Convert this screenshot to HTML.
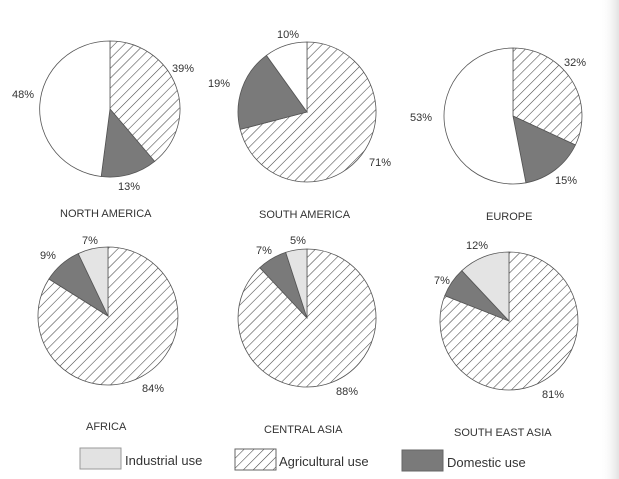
<!DOCTYPE html>
<html><head><meta charset="utf-8"><style>
html,body{margin:0;padding:0;background:#fff;}
svg{display:block;font-family:"Liberation Sans",sans-serif;}
text{font-size:11px;fill:#333;}
</style></head><body>
<svg id="s" width="619" height="479" viewBox="0 0 619 479" xmlns="http://www.w3.org/2000/svg">
<defs>
<pattern id="h" patternUnits="userSpaceOnUse" width="7" height="7" patternTransform="rotate(45)">
<rect width="7" height="7" fill="#fff"/>
<line x1="0" y1="0" x2="0" y2="7" stroke="#444" stroke-width="1.1"/>
</pattern>
<linearGradient id="g" x1="0" x2="1"><stop offset="0" stop-color="#fff" stop-opacity="0"/><stop offset="1" stop-color="#e2e2e2"/></linearGradient>
</defs>
<rect x="600" y="0" width="19" height="479" fill="url(#g)"/>
<g id="pies"></g>
<g>
<text x="172" y="72">39%</text><text x="12" y="98">48%</text><text x="118" y="190">13%</text>
<text x="277" y="38">10%</text><text x="208" y="87">19%</text><text x="369" y="166">71%</text>
<text x="564" y="66">32%</text><text x="410" y="121">53%</text><text x="555" y="184">15%</text>
<text x="82" y="244">7%</text><text x="40" y="259">9%</text><text x="142" y="392">84%</text>
<text x="290" y="244">5%</text><text x="256" y="254">7%</text><text x="336" y="395">88%</text>
<text x="466" y="249">12%</text><text x="434" y="284">7%</text><text x="542" y="398">81%</text>
<text x="60" y="217">NORTH AMERICA</text>
<text x="259" y="218">SOUTH AMERICA</text>
<text x="486" y="220">EUROPE</text>
<text x="86" y="430">AFRICA</text>
<text x="264" y="433">CENTRAL ASIA</text>
<text x="454" y="436">SOUTH EAST ASIA</text>
</g>
<rect x="80" y="448" width="41" height="21" fill="#e2e2e2" stroke="#999"/>
<text x="125" y="465" style="font-size:13px">Industrial use</text>
<rect x="235" y="449" width="41" height="21" fill="url(#h)" stroke="#666"/>
<text x="279" y="466" style="font-size:13px">Agricultural use</text>
<rect x="402" y="450" width="41" height="21" fill="#7a7a7a" stroke="#666"/>
<text x="447" y="467" style="font-size:13px">Domestic use</text>
</svg>
<script>
var pies=[
 [110,109,70,68,39,13,48,"#fff"],
 [307,112,69,70,71,19,10,"#fff"],
 [513,116,69,68,32,15,53,"#fff"],
 [108,316,70,69,84,9,7,"#e4e4e4"],
 [307,318,69,69,88,7,5,"#e4e4e4"],
 [509,321,69,69,81,7,12,"#e4e4e4"]];
var out="";
function pt(cx,cy,rx,ry,f){var a=f*2*Math.PI;return [cx+rx*Math.sin(a),cy-ry*Math.cos(a)];}
function slice(cx,cy,rx,ry,f0,f1,fill){var p0=pt(cx,cy,rx,ry,f0),p1=pt(cx,cy,rx,ry,f1);var L=(f1-f0)>0.5?1:0;
 return '<path d="M'+cx+','+cy+' L'+p0[0].toFixed(1)+','+p0[1].toFixed(1)+' A'+rx+','+ry+' 0 '+L+' 1 '+p1[0].toFixed(1)+','+p1[1].toFixed(1)+' Z" fill="'+fill+'" stroke="#555" stroke-width="0.8"/>';}
pies.forEach(function(p){var a=p[4]/100,d=p[5]/100;
 out+=slice(p[0],p[1],p[2],p[3],0,a,"url(#h)");
 out+=slice(p[0],p[1],p[2],p[3],a,a+d,"#7a7a7a");
 out+=slice(p[0],p[1],p[2],p[3],a+d,0.99999,p[7]);});
document.getElementById("pies").innerHTML=out;
</script>
</body></html>
